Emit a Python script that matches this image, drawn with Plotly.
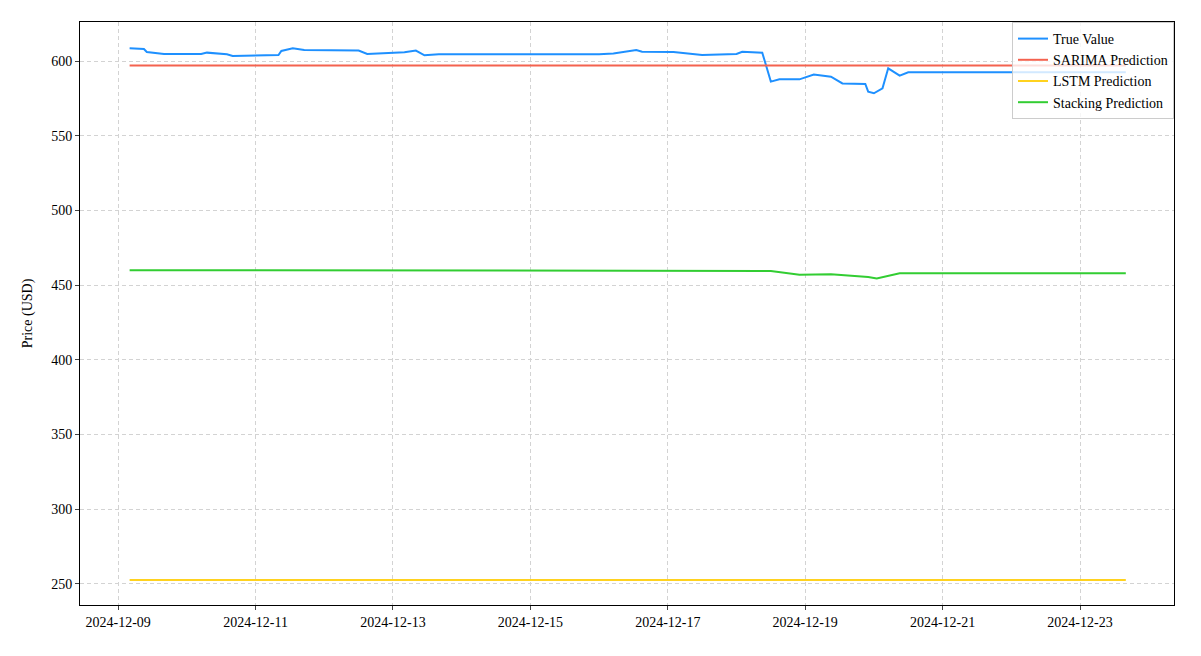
import plotly.graph_objects as go

true_times = ["2024-12-09 04:00","2024-12-09 09:00","2024-12-09 10:00","2024-12-09 16:00","2024-12-10 05:00","2024-12-10 07:00","2024-12-10 14:00","2024-12-10 16:00","2024-12-11 08:00","2024-12-11 09:00","2024-12-11 13:00","2024-12-11 17:00","2024-12-12 12:00","2024-12-12 15:00","2024-12-13 04:00","2024-12-13 08:00","2024-12-13 11:00","2024-12-13 16:00","2024-12-16 00:00","2024-12-16 05:00","2024-12-16 13:00","2024-12-16 15:00","2024-12-17 02:00","2024-12-17 12:00","2024-12-18 00:00","2024-12-18 02:00","2024-12-18 09:00","2024-12-18 12:00","2024-12-18 15:00","2024-12-18 22:00","2024-12-19 03:00","2024-12-19 09:00","2024-12-19 13:00","2024-12-19 21:00","2024-12-19 22:00","2024-12-20 00:00","2024-12-20 03:00","2024-12-20 05:00","2024-12-20 09:00","2024-12-20 12:00","2024-12-23 16:00"]
true_vals = [608.5,608,606,604.7,604.7,605.6,604.5,603.3,604,606.7,608.5,607.4,607,604.7,605.8,607,603.8,604.5,604.5,605,607.4,606.2,606,604,604.7,606.2,605.6,586.2,587.7,587.7,591,589.5,585,584.6,579.5,578.4,581.7,595.1,590.2,592.4,592.4]

stack_times = ["2024-12-09 04:00","2024-12-18 12:00","2024-12-18 22:00","2024-12-19 09:00","2024-12-19 22:00","2024-12-20 01:00","2024-12-20 09:00","2024-12-23 16:00"]
stack_vals = [460,459.5,457,457.2,455.5,454.5,458,458]

ends = ["2024-12-09 04:00","2024-12-23 16:00"]
sarima_vals = [597,597]
lstm_vals = [252.6,252.6]

fig = go.Figure()
fig.add_trace(go.Scatter(x=true_times, y=true_vals, mode="lines", name="True Value", line=dict(color="#1E90FF", width=2)))
fig.add_trace(go.Scatter(x=ends, y=sarima_vals, mode="lines", name="SARIMA Prediction", line=dict(color="#F4624F", width=2)))
fig.add_trace(go.Scatter(x=ends, y=lstm_vals, mode="lines", name="LSTM Prediction", line=dict(color="#FFD21F", width=2)))
fig.add_trace(go.Scatter(x=stack_times, y=stack_vals, mode="lines", name="Stacking Prediction", line=dict(color="#32CD32", width=2)))

axis_common = dict(showline=True, linecolor="black", mirror=True, ticks="outside", ticklen=4,
                   showgrid=True, gridcolor="#d3d3d3", griddash="4px,3px", zeroline=False,
                   tickfont=dict(size=14, color="black"))
fig.update_layout(
    width=1201, height=656, plot_bgcolor="white", paper_bgcolor="white",
    margin=dict(l=72, r=35, t=14, b=59),
    font=dict(family="Liberation Serif", color="black", size=14),
    xaxis=dict(range=["2024-12-08 10:40", "2024-12-24 08:50"], tickformat="%Y-%m-%d", dtick=2*86400000,
               tick0="2024-12-09", **axis_common),
    yaxis=dict(range=[235.9, 626.1], dtick=50, title=dict(text="Price (USD)", font=dict(size=14)), **axis_common),
    legend=dict(x=1, y=1, xanchor="right", yanchor="top", bordercolor="#cccccc", borderwidth=1,
                bgcolor="rgba(255,255,255,0.8)", font=dict(size=14)),
    showlegend=True,
)
fig.write_html("out.html")
